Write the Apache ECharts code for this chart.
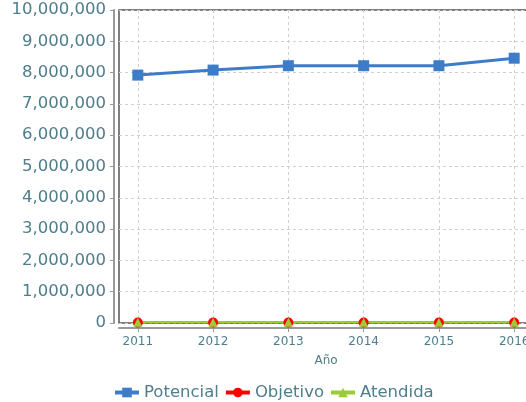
<!DOCTYPE html>
<html><head><meta charset="utf-8">
<script src="https://cdn.jsdelivr.net/npm/echarts@6/dist/echarts.min.js"></script>
<style>html,body{margin:0;padding:0;background:#fff}#c{width:526px;height:402px}</style>
</head><body><div id="c"></div>
<script>
const years = [2011, 2012, 2013, 2014, 2015, 2016];
const potencial = [7920000, 8080000, 8220000, 8220000, 8220000, 8460000];
const objetivo = [15000, 15000, 15000, 15000, 15000, 15000];
const atendida = [20000, 20000, 20000, 20000, 20000, 20000];
const seriesNames = ['Potencial', 'Objetivo', 'Atendida'];

const labelColor = '#4e7d8c';
const font = 'DejaVu Sans';
const pair = arr => years.map((y, i) => [y, arr[i]]);

const chart = echarts.init(document.getElementById('c'));
chart.setOption({
  animation: false,
  textStyle: { fontFamily: font },
  grid: { left: 119, top: 10, width: 414, height: 313, show: true, borderColor: '#555', borderWidth: 1.5,
          containLabel: false, outerBoundsMode: 'none' },
  xAxis: {
    type: 'value', min: 2010.75, max: 2016.25,
    offset: 5,
    name: 'Año', nameLocation: 'middle', nameGap: 27,
    nameTextStyle: { color: labelColor, fontSize: 12, fontFamily: font },
    axisLine: { show: true, onZero: false, lineStyle: { color: '#999', width: 2 } },
    axisTick: { show: true, customValues: years, length: 4, lineStyle: { color: '#999' } },
    axisLabel: { customValues: years, color: labelColor, fontSize: 12, fontFamily: font, margin: 8, formatter: v => String(v) },
    splitLine: { show: true, lineStyle: { color: '#d0d0d0', type: [3, 3] } }
  },
  yAxis: {
    type: 'value', min: 0, max: 10000000, interval: 1000000,
    offset: 5,
    axisLine: { show: true, lineStyle: { color: '#999', width: 2 } },
    axisTick: { show: true, length: 4, lineStyle: { color: '#999' } },
    axisLabel: { color: labelColor, fontSize: 16.5, fontFamily: font, margin: 8, padding: [3, 0, 0, 0] },
    splitLine: { show: true, lineStyle: { color: '#d0d0d0', type: [3, 3] } }
  },
  legend: {
    top: 379, left: 108, itemGap: 5, itemWidth: 24, itemHeight: 12,
    lineStyle: { width: 4 },
    textStyle: { color: labelColor, fontSize: 16.5, fontFamily: font },
    data: seriesNames
  },
  series: [
    { name: seriesNames[0], type: 'line', data: pair(potencial), symbol: 'rect', symbolSize: 11,
      itemStyle: { color: '#3d7cc9' }, lineStyle: { width: 3, color: '#3d7cc9' } },
    { name: seriesNames[1], type: 'line', data: pair(objetivo), symbol: 'circle', symbolSize: 10,
      itemStyle: { color: '#ff0000' }, lineStyle: { width: 2, color: '#ff0000' } },
    { name: seriesNames[2], type: 'line', data: pair(atendida), symbol: 'triangle', symbolSize: 9,
      itemStyle: { color: '#9acd32' }, lineStyle: { width: 2, color: '#9acd32' } }
  ]
});
</script></body></html>
